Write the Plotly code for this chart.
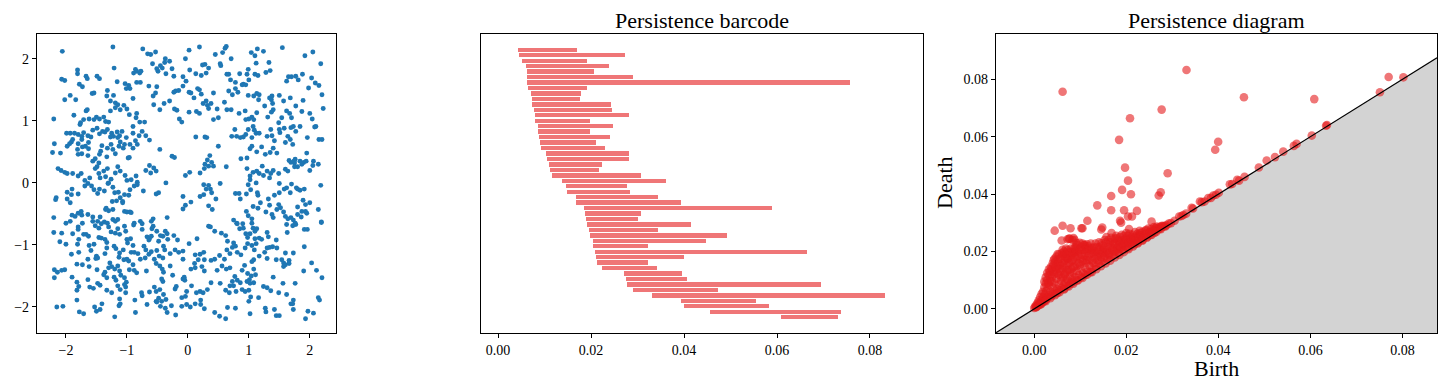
import plotly.graph_objects as go

# ---------------- data ----------------
# sampled point cloud (x, y)
scatter_pts = [
(-1.23,2.19),(0.02,2.14),(0.19,2.19),(0.61,2.17),(0.63,2.2),(1.14,2.16),(1.55,2.18),(-0.74,2.16),(-2.06,2.12),(-0.66,2.08),(-0.61,2.07),(-0.53,2.11),(-0.37,2.0),(-0.30,1.96),(-0.04,2.0),(0.45,2.07),(0.57,2.1),(0.71,2.0),(1.04,2.1),(1.10,2.05),(1.24,2.12),(1.92,2.05),(2.05,2.11),(2.18,1.92),(1.33,1.94),(1.12,1.93),(0.53,1.92),(0.28,1.91),(-0.38,1.94),(-0.45,1.89),(-0.58,1.92),
(-1.21,1.85),(-1.81,1.82),(-1.81,1.76),(-0.86,1.83),(-0.89,1.77),(-0.84,1.80),(-0.79,1.77),(-0.77,1.80),(-0.49,1.80),(-0.51,1.84),(-0.42,1.85),(-0.26,1.84),(0.03,1.82),(0.24,1.90),(0.34,1.85),(0.54,1.89),(0.85,1.76),(0.99,1.83),(0.97,1.75),(1.10,1.75),(1.15,1.73),(1.28,1.78),(1.35,1.81),(1.70,1.71),(1.81,1.66),(2.03,1.69),(1.88,1.75),(-1.49,1.72),(-1.45,1.68),(-1.67,1.72),(-1.65,1.68),(-2.07,1.67),(-2.02,1.65),(-1.78,1.59),(-1.73,1.55),(-1.54,1.45),(-1.57,1.44),(-0.36,1.76),(-0.23,1.72),(-0.08,1.71),(-0.03,1.64),(0.13,1.76),(0.22,1.73),(0.30,1.77),(0.64,1.75),(0.67,1.75),(0.70,1.66),(0.78,1.62),(0.91,1.59),(1.00,1.66),(1.62,1.64),(1.65,1.71),(1.77,1.72),(2.09,1.61),(2.15,1.57),(2.20,1.42),
(-1.16,1.63),(-1.03,1.60),(-0.97,1.57),(-0.95,1.52),(-1.01,1.52),(-0.84,1.62),(-0.78,1.62),(-0.90,1.36),(-1.32,1.49),(-0.64,1.56),(-0.51,1.55),(-0.53,1.45),(-0.57,1.40),(-0.56,1.26),(-0.30,1.32),(-0.23,1.46),(-0.20,1.48),(-0.08,1.56),(-0.15,1.49),(0.02,1.46),(0.05,1.45),(0.10,1.37),(0.16,1.52),(0.19,1.50),(0.22,1.43),(0.25,1.28),(0.30,1.32),(0.32,1.25),(0.38,1.28),(0.42,1.45),(0.48,1.19),(0.60,1.30),(0.67,1.48),(0.73,1.42),(0.78,1.52),(0.82,1.46),(0.89,1.58),(0.95,1.58),(0.99,1.41),(1.08,1.40),(1.13,1.44),(1.16,1.34),(1.17,1.42),(1.34,1.37),(1.38,1.40),(1.37,1.34),(1.50,1.41),(1.57,1.32),(1.68,1.37),(1.89,1.33),(1.98,1.53),(2.22,1.20),(-1.22,1.41),(-1.27,1.32),(-1.19,1.29),(-1.33,1.40),(-1.84,1.34),(-1.93,1.41),(-2.02,1.34),
(-1.27,1.16),(-1.19,1.21),(-1.15,1.26),(-1.11,1.18),(-1.05,1.25),(-1.00,1.19),(-0.96,1.10),(-0.84,1.12),(-0.85,1.05),(-0.79,0.98),(-0.71,0.98),(-0.90,0.91),(-1.67,1.16),(-1.65,1.18),(-1.87,1.09),(-1.71,1.02),(-1.62,1.03),(-1.54,1.02),(-1.50,1.06),(-1.45,1.03),(-1.38,1.06),(-1.35,0.99),(-1.30,0.98),(-1.77,0.94),(-1.76,0.97),(-2.20,1.03),(-0.46,1.18),(-0.39,1.28),(-0.22,1.19),(-0.18,1.17),(-0.14,1.03),(-0.10,0.98),(0.02,1.14),(0.14,1.15),(0.19,1.12),(0.34,1.20),(0.42,1.02),(0.50,1.05),(0.64,1.18),(0.71,1.18),(0.84,1.12),(0.94,1.16),(0.95,1.02),(1.00,1.03),(1.05,1.06),(1.08,1.02),(1.13,1.13),(1.26,1.24),(1.31,1.06),(1.39,1.28),(1.40,1.18),(1.37,1.14),(1.49,0.97),(1.54,1.05),(1.62,1.16),(1.67,1.12),(1.70,1.05),(1.77,1.24),(1.87,1.15),(2.00,1.12),(2.04,1.03),(2.10,0.91),(2.08,0.90),
(-1.99,0.80),(-1.93,0.80),(-1.86,0.80),(-1.80,0.78),(-1.74,0.75),(-1.71,0.81),(-1.64,0.76),(-1.59,0.74),(-1.56,0.85),(-1.49,0.88),(-1.45,0.79),(-1.40,0.83),(-1.36,0.82),(-1.32,0.86),(-1.27,0.74),(-1.25,0.80),(-1.22,0.75),(-1.16,0.82),(-1.12,0.76),(-1.15,0.73),(-1.08,0.83),(-1.01,0.73),(-0.90,0.80),(-0.86,0.68),(-0.80,0.76),(-0.75,0.83),(-0.69,0.76),(-0.63,0.69),(-1.91,0.66),(-1.89,0.70),(-1.80,0.63),(-1.74,0.70),(-1.63,0.65),(-2.19,0.63),(0.80,0.75),(0.86,0.73),(0.91,0.74),(0.95,0.78),(0.99,0.86),(1.07,0.91),(1.09,0.85),(1.12,0.80),(1.17,0.80),(1.05,0.73),(1.30,0.75),(1.36,0.86),(1.38,0.76),(1.42,0.68),(1.50,0.86),(1.51,0.81),(1.58,0.88),(1.64,0.75),(1.69,0.89),(1.73,0.91),(1.77,0.83),(1.84,0.91),(1.96,0.73),(2.15,0.70),(2.20,0.70),(0.28,0.74),(0.13,0.74),(0.31,0.73),(0.50,0.59),(0.72,0.75),(0.77,0.86),
(-1.81,0.54),(-1.73,0.58),(-1.68,0.59),(-1.63,0.55),(-1.74,0.47),(-1.80,0.46),(-1.64,0.44),(-1.56,0.35),(-1.52,0.39),(-1.45,0.46),(-1.41,0.60),(-1.43,0.51),(-1.32,0.56),(-1.26,0.62),(-1.23,0.54),(-1.19,0.47),(-1.13,0.59),(-1.11,0.66),(-1.06,0.56),(-1.04,0.62),(-0.95,0.62),(-0.90,0.56),(-0.83,0.62),(-0.98,0.40),(-0.96,0.41),(-1.33,0.42),(-1.46,0.32),(-2.09,0.48),(-2.22,0.49),(-1.98,0.59),(-1.94,0.63),(-0.46,0.54),(-0.26,0.43),(-0.22,0.41),(0.87,0.39),(0.97,0.40),(1.02,0.55),(1.05,0.59),(1.13,0.50),(1.21,0.58),(1.27,0.46),(1.35,0.49),(1.40,0.56),(1.46,0.48),(1.60,0.65),(1.68,0.70),(1.72,0.62),(1.76,0.38),(1.84,0.35),(1.90,0.33),(1.75,0.32),(1.95,0.48),(1.94,0.35),(2.06,0.35),(2.14,0.30),(1.66,0.36),(1.69,0.33),(1.74,0.35),(0.36,0.44),(0.32,0.37),(0.28,0.30),(0.42,0.27),(0.39,0.33),
(-2.13,0.23),(-2.08,0.20),(-2.02,0.17),(-1.98,0.15),(-1.89,0.15),(-1.80,0.11),(-1.75,0.15),(-1.61,0.08),(-1.69,0.04),(-1.52,0.23),(-1.49,0.26),(-1.46,0.15),(-1.44,0.08),(-1.38,0.19),(-1.35,0.10),(-1.32,0.23),(-1.26,0.06),(-1.30,0.00),(-1.19,0.16),(-1.15,0.26),(-1.11,0.19),(-1.03,0.12),(-1.00,0.04),(-0.93,0.05),(-0.85,0.11),(-0.83,0.01),(-0.69,0.20),(-0.63,0.28),(-0.56,0.24),(-0.52,0.19),(-0.61,0.16),(-0.36,0.00),(-0.04,0.12),(0.03,0.17),(0.20,0.16),(0.27,0.23),(0.34,0.27),(0.53,-0.01),(0.63,0.26),(0.97,0.23),(1.02,0.11),(1.07,0.17),(1.13,0.19),(1.17,0.15),(1.22,0.27),(1.24,0.12),(1.30,0.19),(1.36,0.15),(1.40,0.20),(1.34,0.08),(1.49,0.15),(1.60,0.22),(1.64,0.19),(1.75,0.26),(1.80,0.26),(1.87,0.30),(2.00,0.20),(2.05,0.28),(1.02,0.05),(1.12,0.00),(0.99,-0.03),(1.50,-0.01),(1.70,-0.02),(1.78,-0.08),(1.91,-0.10),(2.18,-0.04),
(-1.98,-0.15),(-1.91,-0.19),(-1.90,-0.10),(-2.16,-0.24),(-2.17,-0.27),(-1.98,-0.26),(-1.93,-0.32),(-1.80,-0.18),(-1.64,-0.01),(-1.69,-0.05),(-1.58,-0.05),(-1.54,-0.11),(-1.48,-0.17),(-1.45,-0.10),(-1.37,-0.13),(-1.31,-0.01),(-1.23,-0.07),(-1.20,-0.16),(-1.14,-0.15),(-1.11,-0.24),(-1.07,-0.30),(-1.04,-0.19),(-0.97,-0.20),(-0.95,-0.11),(-0.88,-0.05),(-0.83,-0.03),(-1.24,-0.30),(-1.17,-0.29),(-0.73,-0.13),(-0.52,-0.18),(-0.48,-0.16),(-0.08,-0.22),(-0.04,-0.36),(0.05,-0.31),(-0.08,-0.42),(0.20,-0.22),(0.26,-0.19),(0.30,-0.10),(0.37,-0.10),(0.39,-0.16),(0.34,-0.04),(0.26,-0.03),(0.46,-0.26),(0.34,-0.37),(0.40,-0.43),(0.78,-0.17),(0.84,-0.17),(0.86,-0.26),(0.96,-0.18),(1.03,-0.11),(1.14,-0.16),(1.15,-0.20),(1.19,-0.32),(1.32,-0.26),(1.42,-0.20),(1.50,-0.16),(1.58,-0.10),(1.62,-0.08),(1.68,-0.16),(1.80,-0.10),(1.84,-0.12),(1.89,-0.28),(1.93,-0.35),(2.00,-0.32),(1.80,-0.39),
(-1.90,-0.52),(-1.85,-0.54),(-1.80,-0.49),(-1.74,-0.52),(-1.75,-0.46),(-1.93,-0.62),(-2.00,-0.65),(-1.73,-0.65),(-1.64,-0.51),(-1.56,-0.55),(-1.56,-0.62),(-1.48,-0.62),(-1.44,-0.55),(-1.35,-0.43),(-1.30,-0.45),(-1.34,-0.41),(-1.23,-0.43),(-1.23,-0.59),(-1.19,-0.62),(-1.15,-0.59),(-1.04,-0.46),(-1.00,-0.47),(-0.95,-0.47),(-0.93,-0.48),(-1.07,-0.32),(-0.88,-0.65),(-0.78,-0.62),(-0.75,-0.66),(-0.60,-0.62),(-0.57,-0.58),(-0.34,-0.56),(-2.20,-0.56),(0.75,-0.60),(0.80,-0.65),(0.96,-0.46),(0.99,-0.53),(1.05,-0.58),(1.07,-0.38),(1.15,-0.41),(1.28,-0.47),(1.34,-0.36),(1.38,-0.51),(1.40,-0.56),(1.46,-0.43),(1.49,-0.35),(1.52,-0.40),(1.57,-0.47),(1.60,-0.54),(1.64,-0.58),(1.69,-0.56),(1.73,-0.60),(1.77,-0.67),(1.87,-0.46),(1.93,-0.46),(1.95,-0.49),(1.86,-0.55),(2.14,-0.43),(2.19,-0.63),(1.80,-0.51),(1.62,-0.67),
(-1.80,-0.71),(-1.80,-0.75),(-1.89,-0.82),(-2.07,-0.81),(-2.20,-0.80),(-1.71,-0.83),(-1.67,-0.83),(-1.63,-0.86),(-1.79,-0.91),(-1.52,-0.69),(-1.42,-0.66),(-1.46,-0.73),(-1.37,-0.63),(-1.32,-0.65),(-1.30,-0.71),(-1.26,-0.79),(-1.19,-0.81),(-1.15,-0.74),(-1.12,-0.83),(-1.04,-0.70),(-1.02,-0.78),(-1.46,-0.88),(-1.42,-0.89),(-1.36,-0.91),(-1.33,-0.96),(-1.00,-0.91),(-0.94,-0.90),(-0.99,-0.97),(-0.89,-0.68),(-0.75,-0.75),(-0.67,-0.87),(-0.63,-0.90),(-0.64,-0.92),(-0.60,-0.86),(-0.59,-0.74),(-0.57,-0.70),(-0.51,-0.78),(-0.37,-0.78),(-0.34,-0.82),(-0.33,-0.91),(-0.41,-0.86),(-0.45,-0.85),(-0.48,-0.94),(-0.23,-0.85),(-0.17,-0.92),(0.15,-0.90),(0.34,-0.70),(0.37,-0.71),(0.44,-0.78),(0.55,-0.81),(0.62,-0.85),(0.65,-0.94),(0.75,-0.97),(0.81,-0.66),(0.85,-0.74),(0.90,-0.66),(0.91,-0.73),(0.95,-0.82),(0.98,-0.88),(1.02,-0.82),(1.05,-0.65),(1.07,-0.73),(1.10,-0.78),(1.13,-0.74),(1.17,-0.89),(1.21,-0.91),(1.10,-0.90),(1.30,-0.80),(1.32,-0.87),(1.45,-0.92),(1.63,-0.80),(1.72,-0.69),(1.76,-0.65),(1.91,-0.75),(1.96,-0.75),(2.19,-0.64),
(-2.10,-0.95),(-2.00,-0.99),(-1.91,-1.15),(-1.81,-0.99),(-1.79,-1.12),(-1.62,-1.01),(-1.59,-1.09),(-1.64,-1.23),(-1.54,-0.99),(-1.50,-1.18),(-1.51,-1.22),(-1.48,-1.21),(-1.36,-1.14),(-1.33,-1.05),(-1.21,-1.02),(-1.18,-1.06),(-1.12,-1.13),(-1.13,-1.20),(-1.06,-1.08),(-1.05,-1.24),(-1.00,-1.23),(-0.97,-1.26),(-0.93,-1.12),(-0.90,-1.01),(-0.88,-1.12),(-0.82,-1.14),(-0.78,-1.23),(-0.69,-1.08),(-0.72,-1.02),(-0.70,-1.21),(-0.64,-1.15),(-0.60,-1.11),(-0.55,-1.23),(-0.51,-1.09),(-0.47,-1.18),(-0.41,-1.21),(-0.38,-1.08),(-0.40,-1.02),(-0.29,-1.14),(-0.21,-1.08),(-0.15,-1.12),(-0.08,-1.10),(-0.08,-1.23),(0.02,-0.98),(0.12,-1.16),(0.17,-1.24),(0.20,-1.15),(0.26,-1.12),(0.27,-1.24),(0.38,-1.25),(0.44,-1.23),(0.52,-1.17),(0.60,-1.23),(0.64,-1.08),(0.69,-1.14),(0.73,-1.04),(0.78,-1.02),(0.81,-1.12),(0.87,-1.16),(0.94,-1.05),(0.98,-0.98),(1.05,-1.01),(1.09,-1.08),(1.12,-0.98),(1.17,-1.18),(1.26,-1.12),(1.30,-1.05),(1.34,-1.04),(1.39,-1.03),(1.46,-1.05),(1.08,-1.24),(1.05,-1.27),(1.30,-1.22),(1.45,-1.24),(1.54,-1.24),(1.57,-1.29),(1.66,-1.25),(1.73,-1.13),(1.91,-1.03),(1.60,-1.13),
(-2.19,-1.40),(-2.14,-1.44),(-2.07,-1.41),(-2.02,-1.40),(-2.19,-1.53),(-1.90,-1.52),(-1.82,-1.60),(-1.79,-1.67),(-1.82,-1.31),(-1.73,-1.32),(-1.62,-1.35),(-1.64,-1.56),(-1.49,-1.40),(-1.38,-1.48),(-1.36,-1.44),(-1.30,-1.37),(-1.28,-1.29),(-1.25,-1.35),(-1.20,-1.39),(-1.15,-1.34),(-1.12,-1.42),(-1.10,-1.49),(-1.21,-1.52),(-1.18,-1.57),(-1.33,-1.53),(-1.04,-1.53),(-1.01,-1.60),(-1.04,-1.64),(-0.96,-1.40),(-0.90,-1.32),(-0.88,-1.41),(-0.84,-1.45),(-0.68,-1.42),(-0.52,-1.30),(-0.46,-1.34),(-0.42,-1.39),(-0.40,-1.44),(-0.43,-1.55),(-0.41,-1.59),(-0.29,-1.34),(-0.25,-1.49),(-0.08,-1.55),(-0.06,-1.52),(-0.05,-1.57),(0.05,-1.39),(0.11,-1.30),(0.12,-1.37),(0.23,-1.35),(0.27,-1.42),(0.48,-1.41),(0.56,-1.34),(0.63,-1.39),(0.69,-1.37),(0.73,-1.59),(0.69,-1.66),(0.77,-1.51),(0.81,-1.57),(0.86,-1.61),(0.89,-1.41),(0.93,-1.33),(0.98,-1.46),(1.01,-1.56),(1.04,-1.50),(1.11,-1.48),(1.08,-1.39),(0.97,-1.59),(1.40,-1.52),(1.57,-1.35),(1.60,-1.32),(1.66,-1.30),(1.90,-1.42),(2.11,-1.41),(2.20,-1.53),(2.03,-1.29),
(-1.48,-1.62),(-1.44,-1.65),(-1.61,-1.68),(-1.55,-1.70),(-1.82,-1.73),(-1.82,-1.89),(-1.33,-1.73),(-1.25,-1.77),(-1.15,-1.66),(-1.11,-1.72),(-1.02,-1.68),(-1.02,-1.77),(-1.12,-1.87),(-0.87,-1.89),(-0.76,-1.77),(-0.75,-1.82),(-0.63,-1.76),(-0.55,-1.68),(-0.52,-1.75),(-0.46,-1.72),(-0.40,-1.80),(-0.36,-1.88),(-0.48,-1.86),(-0.52,-1.91),(-0.43,-1.91),(-0.21,-1.71),(-0.19,-1.67),(-0.10,-1.85),(-0.04,-1.83),(-0.02,-1.75),(0.06,-1.66),(0.14,-1.77),(0.20,-1.75),(0.21,-1.89),(0.25,-1.77),(0.32,-1.72),(0.38,-1.61),(0.53,-1.62),(0.62,-1.73),(0.68,-1.77),(0.75,-1.66),(0.79,-1.75),(0.89,-1.72),(0.94,-1.75),(1.00,-1.73),(1.02,-1.62),(1.08,-1.61),(1.24,-1.67),(1.30,-1.69),(1.36,-1.74),(1.62,-1.80),(1.49,-1.77),(1.56,-1.62),(1.76,-1.62),(1.73,-1.89),(1.69,-1.95),(2.16,-1.89),(2.14,-1.85),(1.16,-1.85),(1.03,-1.84),(1.00,-1.91),
(-2.05,-1.99),(-2.15,-2.00),(-1.78,-2.08),(-1.71,-2.11),(-1.53,-2.00),(-1.50,-2.07),(-1.44,-2.04),(-1.41,-1.95),(-1.20,-2.16),(-1.13,-1.98),(-1.11,-1.95),(-0.86,-2.09),(-0.67,-1.96),(-0.51,-1.92),(-0.45,-1.99),(-0.37,-2.02),(-0.27,-1.98),(-0.34,-2.09),(-0.20,-2.13),(-0.10,-1.99),(-0.02,-1.96),(0.04,-2.00),(0.12,-1.95),(0.21,-1.96),(0.27,-2.03),(0.44,-2.09),(0.52,-2.15),(0.62,-2.19),(0.65,-2.01),(0.78,-2.02),(1.02,-2.11),(1.27,-2.02),(1.28,-2.08),(1.42,-2.04),(1.45,-2.14),(1.50,-2.14),(1.72,-1.95),(1.73,-2.04),(1.93,-2.19),(1.97,-2.07),(2.06,-2.10),
]
cloud_x = [p[0] for p in scatter_pts]
cloud_y = [p[1] for p in scatter_pts]

# 50 most persistent intervals (top to bottom in the barcode)
bar_birth = [0.00423,0.00445,0.00509,0.00596,0.00617,0.00617,0.00617,0.00639,0.00703,0.00725,
             0.00725,0.00768,0.00789,0.00789,0.00854,0.00854,0.00875,0.00897,0.00918,0.01026,
             0.01048,0.01091,0.01112,0.01155,0.01370,0.01457,0.01478,0.01672,0.01672,0.01844,
             0.01865,0.01887,0.01909,0.01952,0.01973,0.02038,0.02038,0.02081,0.02102,0.02124,
             0.02231,0.02705,0.02748,0.02769,0.02899,0.03308,0.03932,0.03996,0.04556,0.06084]
bar_death = [0.01693,0.02726,0.01908,0.02382,0.02059,0.02899,0.07570,0.01908,0.01779,0.01758,
             0.02425,0.02447,0.02813,0.01973,0.02468,0.01973,0.02404,0.02102,0.02296,0.02813,
             0.02813,0.02231,0.02167,0.03071,0.03609,0.02769,0.02834,0.03437,0.03932,0.05891,
             0.03071,0.03006,0.04147,0.03437,0.04922,0.04470,0.03222,0.06644,0.03996,0.03222,
             0.03415,0.03953,0.04061,0.06945,0.04728,0.08323,0.05546,0.05826,0.07376,0.07311]

# remaining short-lived intervals (birth, death) of the diagram
short_pairs = [
(0.0000,0.0003),(0.0002,0.0008),(0.0004,0.0006),(0.0005,0.0015),(0.0006,0.0010),(0.0008,0.0022),(0.0009,0.0012),(0.0010,0.0030),(0.0011,0.0018),(0.0012,0.0015),
(0.0013,0.0041),(0.0014,0.0025),(0.0015,0.0019),(0.0016,0.0052),(0.0017,0.0033),(0.0018,0.0022),(0.0019,0.0060),(0.0020,0.0041),(0.0021,0.0026),(0.0022,0.0075),
(0.0023,0.0050),(0.0024,0.0030),(0.0025,0.0088),(0.0026,0.0062),(0.0027,0.0036),(0.0028,0.0100),(0.0029,0.0071),(0.0030,0.0040),(0.0031,0.0118),(0.0032,0.0085),
(0.0033,0.0047),(0.0034,0.0130),(0.0035,0.0098),(0.0036,0.0060),(0.0037,0.0044),(0.0038,0.0140),(0.0039,0.0112),(0.0040,0.0075),(0.0041,0.0051),(0.0042,0.0152),
(0.0043,0.0121),(0.0044,0.0090),(0.0045,0.0062),(0.0046,0.0165),(0.0047,0.0135),(0.0048,0.0105),(0.0049,0.0070),(0.0050,0.0055),(0.0051,0.0148),(0.0052,0.0172),
(0.0053,0.0118),(0.0054,0.0085),(0.0055,0.0065),(0.0056,0.0155),(0.0057,0.0130),(0.0058,0.0098),(0.0059,0.0073),(0.0060,0.0195),(0.0061,0.0160),(0.0062,0.0140),
(0.0063,0.0110),(0.0064,0.0082),(0.0065,0.0070),(0.0066,0.0168),(0.0067,0.0122),(0.0068,0.0092),(0.0069,0.0210),(0.0070,0.0150),(0.0071,0.0105),(0.0072,0.0080),
(0.0073,0.0175),(0.0074,0.0135),(0.0075,0.0095),(0.0076,0.0245),(0.0077,0.0160),(0.0078,0.0115),(0.0079,0.0088),(0.0080,0.0185),(0.0081,0.0140),(0.0082,0.0102),
(0.0083,0.0240),(0.0084,0.0170),(0.0085,0.0125),(0.0086,0.0095),(0.0087,0.0195),(0.0088,0.0150),(0.0089,0.0110),(0.0090,0.0215),(0.0091,0.0180),(0.0092,0.0132),
(0.0093,0.0100),(0.0095,0.0200),(0.0096,0.0160),(0.0097,0.0118),(0.0099,0.0230),(0.0100,0.0175),(0.0101,0.0140),(0.0102,0.0110),(0.0104,0.0205),(0.0105,0.0165),
(0.0106,0.0125),(0.0108,0.0222),(0.0109,0.0185),(0.0110,0.0145),(0.0111,0.0118),(0.0113,0.0210),(0.0114,0.0170),(0.0116,0.0130),(0.0117,0.0218),(0.0119,0.0190),
(0.0120,0.0150),(0.0122,0.0128),(0.0124,0.0205),(0.0126,0.0168),(0.0127,0.0140),(0.0128,0.0194),(0.0130,0.0215),(0.0132,0.0175),(0.0134,0.0148),(0.0136,0.0200),
(0.0138,0.0185),(0.0140,0.0158),(0.0142,0.0215),(0.0144,0.0192),(0.0146,0.0229),(0.0147,0.0165),(0.0149,0.0205),(0.0151,0.0178),(0.0153,0.0240),(0.0155,0.0198),
(0.0157,0.0250),(0.0158,0.0172),(0.0160,0.0215),(0.0162,0.0188),(0.0164,0.0232),(0.0166,0.0180),(0.0168,0.0264),(0.0169,0.0205),(0.0171,0.0190),(0.0173,0.0225),
(0.0175,0.0245),(0.0177,0.0200),(0.0179,0.0246),(0.0181,0.0215),(0.0183,0.0195),(0.0185,0.0235),(0.0187,0.0210),(0.0190,0.0258),(0.0192,0.0222),(0.0194,0.0205),
(0.0196,0.0240),(0.0198,0.0216),(0.0200,0.0264),(0.0202,0.0228),(0.0204,0.0212),(0.0206,0.0278),(0.0208,0.0240),(0.0210,0.0222),(0.0212,0.0250),(0.0215,0.0234),
(0.0218,0.0225),(0.0220,0.0252),(0.0223,0.0238),(0.0226,0.0232),(0.0228,0.0258),(0.0230,0.0264),(0.0233,0.0245),(0.0236,0.0240),(0.0240,0.0262),(0.0243,0.0275),
(0.0246,0.0252),(0.0250,0.0268),(0.0252,0.0258),(0.0255,0.0304),(0.0258,0.0275),(0.0261,0.0265),(0.0264,0.0282),(0.0266,0.0287),(0.0270,0.0278),(0.0274,0.0280),
(0.0278,0.0290),(0.0280,0.0287),(0.0283,0.0288),(0.0287,0.0292),(0.0292,0.0297),
(0.0022,0.0095),(0.0025,0.0110),(0.0028,0.0125),(0.0030,0.0090),(0.0032,0.0138),(0.0034,0.0115),(0.0036,0.0145),(0.0038,0.0095),(0.0040,0.0158),(0.0042,0.0130),
(0.0044,0.0175),(0.0046,0.0145),(0.0048,0.0182),(0.0050,0.0125),(0.0052,0.0160),(0.0054,0.0190),(0.0055,0.0140),(0.0057,0.0175),(0.0059,0.0110),(0.0061,0.0185),
(0.0063,0.0150),(0.0065,0.0200),(0.0066,0.0120),(0.0068,0.0178),(0.0070,0.0192),(0.0071,0.0135),(0.0073,0.0205),(0.0075,0.0160),(0.0077,0.0198),(0.0078,0.0130),
(0.0080,0.0210),(0.0082,0.0168),(0.0084,0.0195),(0.0085,0.0145),(0.0087,0.0212),(0.0089,0.0178),(0.0091,0.0200),(0.0093,0.0150),(0.0094,0.0222),(0.0096,0.0185),
(0.0098,0.0205),(0.0100,0.0155),(0.0102,0.0215),(0.0103,0.0190),(0.0105,0.0228),(0.0107,0.0170),(0.0109,0.0205),(0.0111,0.0195),(0.0113,0.0160),(0.0115,0.0225),
(0.0117,0.0182),(0.0119,0.0210),(0.0121,0.0170),(0.0123,0.0228),(0.0125,0.0195),(0.0127,0.0212),(0.0129,0.0160),(0.0131,0.0200),(0.0133,0.0228),(0.0135,0.0185),
(0.0137,0.0215),(0.0139,0.0170),(0.0141,0.0232),(0.0143,0.0205),(0.0145,0.0180),(0.0148,0.0222),(0.0150,0.0195),(0.0152,0.0212),(0.0154,0.0185),(0.0156,0.0232),
(0.0159,0.0205),(0.0161,0.0240),(0.0163,0.0195),(0.0165,0.0220),(0.0167,0.0248),(0.0170,0.0212),(0.0172,0.0235),(0.0174,0.0200),(0.0176,0.0228),(0.0178,0.0255),
(0.0180,0.0208),(0.0182,0.0238),(0.0184,0.0222),(0.0186,0.0250),(0.0188,0.0215),(0.0191,0.0240),(0.0193,0.0228),(0.0195,0.0255),(0.0197,0.0230),(0.0199,0.0245),
(0.0201,0.0238),(0.0203,0.0255),(0.0205,0.0230),(0.0207,0.0262),(0.0209,0.0245),(0.0211,0.0235),(0.0214,0.0258),(0.0216,0.0245),(0.0219,0.0268),(0.0221,0.0240),
(0.0224,0.0262),(0.0227,0.0250),(0.0229,0.0272),(0.0232,0.0255),(0.0235,0.0268),(0.0238,0.0250),(0.0241,0.0272),(0.0244,0.0262),(0.0248,0.0280),(0.0251,0.0265),
(0.0254,0.0278),(0.0257,0.0268),(0.0260,0.0285),(0.0263,0.0275),(0.0267,0.0280),(0.0272,0.0285),(0.0276,0.0288),
(0.0005,0.0007),(0.0015,0.0016),(0.0025,0.0027),(0.0035,0.0037),(0.0045,0.0048),(0.0055,0.0058),(0.0065,0.0068),(0.0075,0.0078),(0.0085,0.0088),(0.0095,0.0099),
(0.0105,0.0108),(0.0115,0.0119),(0.0125,0.0128),(0.0135,0.0138),(0.0145,0.0149),(0.0155,0.0158),(0.0165,0.0168),(0.0175,0.0179),(0.0185,0.0188),(0.0195,0.0198),
(0.0205,0.0208),(0.0215,0.0218),(0.0225,0.0228),(0.0235,0.0238),(0.0245,0.0248),(0.0255,0.0258),(0.0265,0.0268),(0.0275,0.0278),(0.0285,0.0287),(0.0297,0.0299),
(0.0305,0.0307),
(0.0315,0.0322),(0.0320,0.0324),(0.0324,0.0327),(0.0330,0.0332),(0.0342,0.0352),(0.0345,0.0350),(0.0360,0.0374),(0.0364,0.0372),(0.0370,0.0374),(0.0378,0.0386),
(0.0384,0.0387),(0.0389,0.0395),(0.0395,0.0398),(0.0401,0.0405),(0.0425,0.0434),(0.0430,0.0435),(0.0441,0.0450),(0.0445,0.0447),(0.0457,0.0460),(0.0488,0.0493),
(0.0505,0.0517),(0.0523,0.0529),(0.0541,0.0548),(0.0564,0.0568),(0.0570,0.0575),(0.0603,0.0604),(0.0634,0.0638),(0.0636,0.0641),(0.0751,0.0755),(0.0770,0.0808),
(0.0802,0.0807),
]
diag_birth = bar_birth + [p[0] for p in short_pairs]
diag_death = bar_death + [p[1] for p in short_pairs]

diag_xrange = [-0.0083, 0.0875]
diag_yrange = [-0.0084, 0.0958]

# ---------------- figure ----------------
FONT = "Liberation Serif"
OFF = 8                      # default page body margin
W, H = 1446 - 2 * OFF, 390 - 2 * OFF

def xdom(a, b):
    return [(a - OFF) / W, (b - OFF) / W]

def xp(a):
    return (a - OFF) / W

def yp(a):
    return 1 - (a - OFF) / H

fig = go.Figure()

# left: point cloud
fig.add_trace(go.Scatter(
    x=cloud_x, y=cloud_y, mode="markers",
    marker=dict(color="#1f77b4", size=4.9, line=dict(width=0)),
    xaxis="x", yaxis="y", showlegend=False, hoverinfo="skip"))

# middle: barcode
bar_idx = list(range(len(bar_birth)))
fig.add_trace(go.Bar(
    base=bar_birth,
    x=[d - b for b, d in zip(bar_birth, bar_death)],
    y=bar_idx, orientation="h", width=0.8,
    marker=dict(color="rgba(228,26,28,0.6)", line=dict(width=0)),
    xaxis="x2", yaxis="y2", showlegend=False, hoverinfo="skip"))

# right: diagram – gray region under diagonal
x0, x1 = diag_xrange
y0 = diag_yrange[0]
fig.add_trace(go.Scatter(
    x=[x0, x1, x1, x0], y=[x0, x1, y0, y0], fill="toself",
    fillcolor="#d3d3d3", line=dict(width=0), mode="lines",
    xaxis="x3", yaxis="y3", showlegend=False, hoverinfo="skip"))
fig.add_trace(go.Scatter(
    x=diag_birth, y=diag_death, mode="markers",
    marker=dict(color="#e41a1c", size=8.6, opacity=0.6, line=dict(width=0)),
    xaxis="x3", yaxis="y3", showlegend=False, hoverinfo="skip"))
fig.add_trace(go.Scatter(
    x=[x0, x1], y=[x0, x1], mode="lines",
    line=dict(color="black", width=1.2),
    xaxis="x3", yaxis="y3", showlegend=False, hoverinfo="skip"))

ydom = [yp(333), yp(34)]
axis_common = dict(showline=True, mirror=True, linecolor="black", linewidth=1.2,
                   ticks="outside", ticklen=4, tickwidth=1, tickcolor="black",
                   showgrid=False, zeroline=False,
                   tickfont=dict(family=FONT, size=14, color="black"))

fig.update_layout(
    width=W, height=H,
    margin=dict(l=0, r=0, t=0, b=0),
    paper_bgcolor="white", plot_bgcolor="white",
    bargap=0,
    xaxis=dict(domain=xdom(37, 336), range=[-2.475, 2.43],
               tickvals=[-2, -1, 0, 1, 2], anchor="y", **axis_common),
    yaxis=dict(domain=ydom, range=[-2.42, 2.40],
               tickvals=[-2, -1, 0, 1, 2], anchor="x", **axis_common),
    xaxis2=dict(domain=xdom(481, 923), range=[-0.00366, 0.0914],
                tickvals=[0, 0.02, 0.04, 0.06, 0.08], tickformat=".2f",
                anchor="y2", **axis_common),
    yaxis2=dict(domain=ydom, range=[51.9, -2.9], anchor="x2",
                showline=True, mirror=True, linecolor="black", linewidth=1.2,
                showticklabels=False, ticks="", showgrid=False, zeroline=False),
    xaxis3=dict(domain=xdom(996, 1437), range=diag_xrange,
                tickvals=[0, 0.02, 0.04, 0.06, 0.08], tickformat=".2f",
                anchor="y3", **axis_common),
    yaxis3=dict(domain=ydom, range=diag_yrange,
                tickvals=[0, 0.02, 0.04, 0.06, 0.08], tickformat=".2f",
                anchor="x3", **axis_common),
    annotations=[
        dict(text="Persistence barcode", x=xp(702), y=yp(20.5), xref="paper", yref="paper",
             showarrow=False, xanchor="center", yanchor="middle",
             font=dict(family=FONT, size=22, color="black")),
        dict(text="Persistence diagram", x=xp(1216.5), y=yp(20.5), xref="paper", yref="paper",
             showarrow=False, xanchor="center", yanchor="middle",
             font=dict(family=FONT, size=22, color="black")),
        dict(text="Birth", x=xp(1216.5), y=yp(368), xref="paper", yref="paper",
             showarrow=False, xanchor="center", yanchor="middle",
             font=dict(family=FONT, size=22, color="black")),
        dict(text="Death", x=xp(944), y=yp(183), xref="paper", yref="paper",
             showarrow=False, xanchor="center", yanchor="middle", textangle=-90,
             font=dict(family=FONT, size=22, color="black")),
    ],
)

fig.write_html("out.html")
